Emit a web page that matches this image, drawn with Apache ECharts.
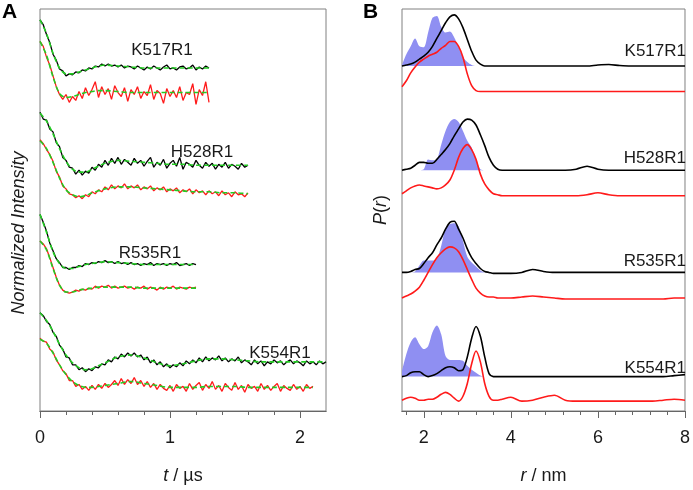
<!DOCTYPE html>
<html>
<head>
<meta charset="utf-8">
<script src="https://cdn.jsdelivr.net/npm/echarts@6/dist/echarts.min.js"></script>
<style>
	html, body { margin: 0; padding: 0; background: #fff; }
	#chart { width: 693px; height: 490px; }
</style>
</head>
<body>
<div id="chart"></div>
<script>
// trace names (same order in both panels)
const traceNames = ["K517R1", "H528R1", "R535R1", "K554R1"];

// ---- panel A: DEER time traces (offset, a.u.), sampled every dtA µs ----
const dtA = 0.025;
const k517Black = [3.98, 3.93, 3.83, 3.75, 3.63, 3.57, 3.48, 3.46, 3.41, 3.43, 3.42, 3.45, 3.44, 3.47, 3.46, 3.49, 3.48, 3.51, 3.50, 3.53, 3.51, 3.53, 3.51, 3.52, 3.50, 3.52, 3.49, 3.51, 3.50, 3.48, 3.51, 3.49, 3.47, 3.50, 3.48, 3.51, 3.49, 3.47, 3.50, 3.52, 3.48, 3.49, 3.47, 3.50, 3.51, 3.48, 3.49, 3.52, 3.47, 3.50, 3.48, 3.51, 3.49];
const k517Red = [3.76, 3.71, 3.60, 3.52, 3.41, 3.30, 3.22, 3.17, 3.22, 3.14, 3.20, 3.16, 3.25, 3.18, 3.29, 3.21, 3.27, 3.35, 3.19, 3.30, 3.22, 3.28, 3.17, 3.31, 3.24, 3.20, 3.29, 3.15, 3.27, 3.22, 3.30, 3.18, 3.25, 3.21, 3.32, 3.17, 3.26, 3.23, 3.13, 3.28, 3.20, 3.26, 3.19, 3.30, 3.16, 3.24, 3.22, 3.33, 3.12, 3.27, 3.21, 3.35, 3.14];
const h528Black = [3.04, 2.97, 2.96, 2.87, 2.84, 2.73, 2.69, 2.58, 2.55, 2.48, 2.47, 2.41, 2.45, 2.40, 2.44, 2.42, 2.48, 2.45, 2.51, 2.48, 2.55, 2.50, 2.57, 2.52, 2.58, 2.51, 2.56, 2.53, 2.50, 2.57, 2.52, 2.55, 2.49, 2.54, 2.58, 2.48, 2.53, 2.50, 2.56, 2.47, 2.52, 2.55, 2.49, 2.58, 2.46, 2.53, 2.51, 2.48, 2.55, 2.50, 2.47, 2.53, 2.49, 2.52, 2.46, 2.51, 2.48, 2.53, 2.47, 2.51, 2.49, 2.46, 2.52, 2.48, 2.50];
const h528Red = [2.76, 2.72, 2.66, 2.61, 2.54, 2.44, 2.38, 2.29, 2.26, 2.21, 2.20, 2.17, 2.19, 2.16, 2.20, 2.18, 2.23, 2.21, 2.25, 2.23, 2.28, 2.25, 2.30, 2.26, 2.29, 2.27, 2.31, 2.26, 2.29, 2.27, 2.30, 2.25, 2.28, 2.26, 2.29, 2.24, 2.27, 2.25, 2.28, 2.23, 2.26, 2.24, 2.27, 2.22, 2.25, 2.23, 2.26, 2.21, 2.25, 2.22, 2.24, 2.20, 2.24, 2.21, 2.23, 2.19, 2.24, 2.20, 2.22, 2.18, 2.23, 2.20, 2.21, 2.18, 2.22];
const r535Black = [2.00, 1.92, 1.83, 1.71, 1.63, 1.55, 1.51, 1.46, 1.46, 1.44, 1.46, 1.46, 1.48, 1.47, 1.50, 1.49, 1.51, 1.50, 1.52, 1.51, 1.53, 1.51, 1.52, 1.50, 1.52, 1.50, 1.51, 1.49, 1.51, 1.49, 1.50, 1.48, 1.50, 1.49, 1.51, 1.48, 1.50, 1.49, 1.50, 1.48, 1.50, 1.49, 1.51, 1.48, 1.49, 1.50, 1.48, 1.50, 1.49];
const r535Red = [1.73, 1.70, 1.65, 1.56, 1.46, 1.36, 1.28, 1.23, 1.21, 1.20, 1.21, 1.23, 1.22, 1.24, 1.23, 1.25, 1.24, 1.27, 1.25, 1.27, 1.26, 1.28, 1.25, 1.27, 1.25, 1.26, 1.27, 1.25, 1.26, 1.24, 1.26, 1.25, 1.27, 1.24, 1.26, 1.25, 1.23, 1.26, 1.24, 1.26, 1.25, 1.27, 1.24, 1.26, 1.25, 1.24, 1.26, 1.25, 1.26];
const k554Black = [1.00, 0.97, 0.91, 0.88, 0.80, 0.76, 0.67, 0.63, 0.55, 0.54, 0.47, 0.47, 0.42, 0.44, 0.40, 0.43, 0.41, 0.45, 0.44, 0.48, 0.47, 0.52, 0.50, 0.55, 0.53, 0.58, 0.55, 0.59, 0.56, 0.59, 0.55, 0.57, 0.52, 0.55, 0.49, 0.52, 0.47, 0.50, 0.45, 0.48, 0.44, 0.47, 0.45, 0.49, 0.46, 0.51, 0.48, 0.52, 0.49, 0.54, 0.50, 0.55, 0.51, 0.54, 0.52, 0.56, 0.51, 0.54, 0.50, 0.53, 0.51, 0.55, 0.49, 0.52, 0.50, 0.47, 0.52, 0.48, 0.51, 0.46, 0.50, 0.48, 0.52, 0.49, 0.51, 0.47, 0.50, 0.52, 0.48, 0.51, 0.49, 0.46, 0.51, 0.48, 0.50, 0.47, 0.51, 0.48, 0.50];
const k554Red = [0.74, 0.71, 0.70, 0.63, 0.60, 0.52, 0.47, 0.41, 0.38, 0.31, 0.31, 0.25, 0.27, 0.22, 0.25, 0.21, 0.26, 0.22, 0.27, 0.23, 0.28, 0.24, 0.27, 0.31, 0.26, 0.33, 0.27, 0.32, 0.28, 0.34, 0.27, 0.31, 0.25, 0.30, 0.24, 0.28, 0.22, 0.27, 0.23, 0.21, 0.26, 0.20, 0.27, 0.23, 0.25, 0.20, 0.28, 0.22, 0.26, 0.29, 0.21, 0.27, 0.23, 0.30, 0.22, 0.26, 0.20, 0.28, 0.24, 0.21, 0.29, 0.22, 0.26, 0.19, 0.27, 0.23, 0.25, 0.20, 0.28, 0.22, 0.26, 0.21, 0.25, 0.28, 0.20, 0.26, 0.23, 0.21, 0.27, 0.22, 0.25, 0.20, 0.27, 0.23, 0.25];

// fits (green dashed), on the fitT grid
const fitT = [0, 0.05, 0.1, 0.15, 0.2, 0.25, 0.3, 0.35, 0.4, 0.45, 0.5, 0.6, 0.7, 0.8, 0.9, 1.0, 1.1, 1.2, 1.3, 1.4, 1.5, 1.6, 1.7, 1.8, 1.9, 2.0, 2.1, 2.2];
const k517BlackFit = [3.98, 3.84, 3.64, 3.49, 3.43, 3.43, 3.45, 3.47, 3.49, 3.51, 3.52, 3.51, 3.50, 3.49, 3.49, 3.49, 3.49, 3.49, 3.49];
const k517RedFit = [3.76, 3.62, 3.40, 3.23, 3.19, 3.20, 3.22, 3.24, 3.25, 3.26, 3.26, 3.25, 3.24, 3.24, 3.24, 3.24, 3.24, 3.24, 3.24];
const h528BlackFit = [3.03, 2.95, 2.82, 2.67, 2.54, 2.46, 2.43, 2.43, 2.46, 2.49, 2.52, 2.55, 2.54, 2.53, 2.52, 2.51, 2.51, 2.50, 2.50, 2.50, 2.50, 2.50];
const h528RedFit = [2.75, 2.67, 2.53, 2.37, 2.25, 2.20, 2.18, 2.19, 2.22, 2.24, 2.26, 2.28, 2.28, 2.27, 2.26, 2.25, 2.24, 2.23, 2.23, 2.22, 2.22, 2.21];
const r535BlackFit = [2.00, 1.82, 1.62, 1.50, 1.45, 1.45, 1.47, 1.49, 1.50, 1.51, 1.52, 1.51, 1.50, 1.49, 1.49, 1.49, 1.49, 1.49];
const r535RedFit = [1.73, 1.64, 1.45, 1.28, 1.21, 1.21, 1.23, 1.24, 1.25, 1.26, 1.26, 1.26, 1.26, 1.25, 1.25, 1.25, 1.25, 1.25];
const k554BlackFit = [1.00, 0.92, 0.81, 0.68, 0.57, 0.49, 0.44, 0.42, 0.43, 0.46, 0.49, 0.55, 0.57, 0.54, 0.49, 0.46, 0.48, 0.51, 0.53, 0.53, 0.52, 0.51, 0.50, 0.50, 0.50, 0.50, 0.50, 0.50];
const k554RedFit = [0.73, 0.69, 0.59, 0.47, 0.37, 0.30, 0.26, 0.24, 0.24, 0.25, 0.26, 0.28, 0.30, 0.28, 0.26, 0.24, 0.24, 0.24, 0.25, 0.25, 0.25, 0.24, 0.24, 0.24, 0.24, 0.24, 0.24];

// ---- panel B: distance distributions P(r), offset ----
const rGrid = [1.5, 1.6, 1.7, 1.8, 1.9, 2.0, 2.1, 2.2, 2.3, 2.4, 2.5, 2.6, 2.7, 2.8, 2.9, 3.0, 3.1, 3.2, 3.3, 3.4, 3.5, 3.6, 3.7, 3.8, 4.0, 4.25, 4.5, 4.75, 5.0, 5.25, 5.5, 5.75, 6.0, 6.25, 6.5, 6.75, 7.0, 7.25, 7.5, 7.75, 8.0];
const k517PrBlack = [3.53, 3.54, 3.55, 3.57, 3.60, 3.63, 3.67, 3.73, 3.81, 3.89, 3.97, 4.03, 4.05, 4.01, 3.92, 3.80, 3.68, 3.59, 3.55, 3.53, 3.53, 3.53, 3.53, 3.53, 3.53, 3.53, 3.53, 3.53, 3.53, 3.53, 3.53, 3.53, 3.54, 3.545, 3.535, 3.53, 3.53, 3.53, 3.53, 3.53, 3.53];
const k517PrRed = [3.32, 3.38, 3.46, 3.52, 3.57, 3.60, 3.63, 3.65, 3.67, 3.71, 3.74, 3.78, 3.78, 3.73, 3.62, 3.45, 3.33, 3.28, 3.27, 3.27, 3.27, 3.27, 3.27, 3.27, 3.27, 3.27, 3.27, 3.27, 3.27, 3.27, 3.27, 3.27, 3.27, 3.27, 3.27, 3.27, 3.27, 3.27, 3.27, 3.27, 3.27];
const k517PrBlue = [3.54, 3.65, 3.73, 3.81, 3.73, 3.72, 3.87, 4.02, 4.04, 3.93, 3.87, 3.88, 3.82, 3.72, 3.62, 3.57, 3.54, 3.53, 3.53];
const h528PrBlack = [2.47, 2.48, 2.49, 2.52, 2.55, 2.55, 2.54, 2.54, 2.58, 2.63, 2.68, 2.74, 2.82, 2.89, 2.96, 2.99, 2.98, 2.93, 2.83, 2.72, 2.60, 2.52, 2.48, 2.47, 2.47, 2.47, 2.47, 2.47, 2.47, 2.47, 2.48, 2.51, 2.48, 2.47, 2.47, 2.47, 2.47, 2.47, 2.47, 2.47, 2.47];
const h528PrRed = [2.23, 2.26, 2.29, 2.31, 2.32, 2.31, 2.30, 2.29, 2.28, 2.29, 2.32, 2.37, 2.47, 2.60, 2.69, 2.73, 2.68, 2.58, 2.43, 2.33, 2.27, 2.23, 2.22, 2.21, 2.21, 2.21, 2.21, 2.21, 2.21, 2.21, 2.21, 2.22, 2.24, 2.22, 2.21, 2.21, 2.21, 2.21, 2.21, 2.21, 2.21];
const h528PrBlue = [2.47, 2.47, 2.47, 2.47, 2.47, 2.48, 2.58, 2.57, 2.58, 2.73, 2.87, 2.96, 2.99, 2.96, 2.87, 2.77, 2.70, 2.57, 2.48, 2.47];
const r535PrBlack = [1.43, 1.43, 1.44, 1.46, 1.47, 1.52, 1.58, 1.63, 1.71, 1.78, 1.87, 1.94, 1.95, 1.87, 1.78, 1.67, 1.58, 1.52, 1.47, 1.44, 1.43, 1.42, 1.42, 1.42, 1.42, 1.43, 1.46, 1.44, 1.43, 1.43, 1.43, 1.43, 1.43, 1.43, 1.43, 1.43, 1.43, 1.43, 1.43, 1.43, 1.43];
const r535PrRed = [1.17, 1.19, 1.21, 1.24, 1.28, 1.35, 1.43, 1.51, 1.58, 1.63, 1.67, 1.69, 1.68, 1.64, 1.56, 1.46, 1.36, 1.27, 1.22, 1.19, 1.18, 1.18, 1.17, 1.17, 1.17, 1.18, 1.19, 1.18, 1.17, 1.16, 1.16, 1.16, 1.16, 1.16, 1.16, 1.16, 1.16, 1.16, 1.16, 1.17, 1.17];
const r535PrBlue = [1.43, 1.43, 1.43, 1.44, 1.50, 1.55, 1.55, 1.55, 1.57, 1.70, 1.88, 1.92, 1.93, 1.90, 1.75, 1.59, 1.53, 1.49, 1.45, 1.43];
const k554PrBlack = [0.37, 0.38, 0.41, 0.42, 0.42, 0.39, 0.37, 0.38, 0.40, 0.43, 0.46, 0.47, 0.46, 0.43, 0.44, 0.57, 0.76, 0.88, 0.78, 0.57, 0.40, 0.37, 0.37, 0.37, 0.37, 0.37, 0.37, 0.37, 0.37, 0.37, 0.37, 0.37, 0.37, 0.37, 0.37, 0.37, 0.37, 0.37, 0.37, 0.38, 0.39];
const k554PrRed = [0.13, 0.15, 0.16, 0.15, 0.13, 0.13, 0.14, 0.14, 0.16, 0.19, 0.21, 0.19, 0.15, 0.12, 0.17, 0.30, 0.50, 0.63, 0.52, 0.30, 0.17, 0.13, 0.13, 0.14, 0.16, 0.12, 0.13, 0.16, 0.18, 0.13, 0.12, 0.12, 0.12, 0.12, 0.12, 0.12, 0.12, 0.12, 0.13, 0.14, 0.13];
const k554PrBlue = [0.43, 0.60, 0.72, 0.77, 0.70, 0.65, 0.68, 0.82, 0.89, 0.80, 0.58, 0.54, 0.54, 0.54, 0.53, 0.48, 0.44, 0.41, 0.38, 0.37];
// baseline of each shaded distribution (= black trace baseline)
const blueBase = [3.53, 2.47, 1.43, 0.37];

// tick values
const majorTicksA = [0, 1, 2];
const allTicksA = [0, 0.2, 0.4, 0.6, 0.8, 1, 1.2, 1.4, 1.6, 1.8, 2];
const majorTicksB = [2, 4, 6, 8];
const allTicksB = [1.6, 2, 2.4, 2.8, 3.2, 3.6, 4, 4.4, 4.8, 5.2, 5.6, 6, 6.4, 6.8, 7.2, 7.6, 8];

const FONT = "Liberation Sans, Arial, sans-serif";
const AXIS_COLOR = "#666";
const RED = "#ff1a1a";

const chart = echarts.init(document.getElementById("chart"));

// time trace (experimental data)
function dataLine(values, color) {
	return {
		type: "line", xAxisIndex: 0, yAxisIndex: 0,
		data: values.map((v, i) => [i * dtA, v]),
		showSymbol: false, symbol: "none", silent: true,
		lineStyle: { color: color, width: 1.3 },
		z: 2,
	};
}

// fit (green dashed)
function fitLine(values) {
	return {
		type: "line", xAxisIndex: 0, yAxisIndex: 0,
		data: values.map((v, i) => [fitT[i], v]),
		showSymbol: false, symbol: "none", silent: true, smooth: 0.3,
		lineStyle: { color: "#22cc22", width: 1.6, type: [5, 3] },
		z: 3,
	};
}

function prLine(values, color) {
	return {
		type: "line", xAxisIndex: 2, yAxisIndex: 1,
		data: values.map((v, i) => [rGrid[i], v]),
		showSymbol: false, symbol: "none", silent: true, smooth: 0.3,
		lineStyle: { color: color, width: 1.6 },
		z: 3,
	};
}

// shaded distribution filled down to its baseline
function prArea(values, base) {
	return {
		type: "line", xAxisIndex: 2, yAxisIndex: 1,
		data: values.map((v, i) => [rGrid[i], v]),
		showSymbol: false, symbol: "none", silent: true, smooth: 0.3,
		lineStyle: { width: 0 },
		areaStyle: { color: "#8f8ff2", opacity: 1, origin: base },
		z: 1,
	};
}

const series = [
	dataLine(k517Black, "#000"), dataLine(k517Red, RED),
	dataLine(h528Black, "#000"), dataLine(h528Red, RED),
	dataLine(r535Black, "#000"), dataLine(r535Red, RED),
	dataLine(k554Black, "#000"), dataLine(k554Red, RED),
	fitLine(k517BlackFit), fitLine(k517RedFit),
	fitLine(h528BlackFit), fitLine(h528RedFit),
	fitLine(r535BlackFit), fitLine(r535RedFit),
	fitLine(k554BlackFit), fitLine(k554RedFit),
	prArea(k517PrBlue, blueBase[0]), prArea(h528PrBlue, blueBase[1]),
	prArea(r535PrBlue, blueBase[2]), prArea(k554PrBlue, blueBase[3]),
	prLine(k517PrBlack, "#000"), prLine(k517PrRed, RED),
	prLine(h528PrBlack, "#000"), prLine(h528PrRed, RED),
	prLine(r535PrBlack, "#000"), prLine(r535PrRed, RED),
	prLine(k554PrBlack, "#000"), prLine(k554PrRed, RED),
];

const nameStyle = {
	fontSize: 18, fontFamily: FONT, color: "#1a1a1a",
	rich: { i: { fontStyle: "italic", fontSize: 18, fontFamily: FONT, color: "#1a1a1a" } },
};

// main axis: short ticks at every (minor + major) position, labels at majors
function mainX(gridIndex, min, max, ticks, labels, name) {
	return {
		type: "value", gridIndex: gridIndex, min: min, max: max, position: "bottom", offset: 0,
		name: name, nameLocation: "middle", nameGap: 56, nameTextStyle: nameStyle,
		axisLine: { lineStyle: { color: AXIS_COLOR, width: 1 } },
		axisTick: { show: true, customValues: ticks, length: 4, lineStyle: { color: AXIS_COLOR } },
		axisLabel: { customValues: labels, fontSize: 18, fontFamily: FONT, color: "#1a1a1a", margin: 18 },
		splitLine: { show: false },
	};
}

// second axis on the same grid, for the longer major ticks
function majorX(gridIndex, min, max, ticks) {
	return {
		type: "value", gridIndex: gridIndex, min: min, max: max, position: "bottom", offset: 0,
		axisLine: { show: true, lineStyle: { color: AXIS_COLOR, width: 1 } },
		axisTick: { show: true, customValues: ticks, length: 7, lineStyle: { color: AXIS_COLOR } },
		axisLabel: { show: false },
		splitLine: { show: false },
	};
}

function hiddenY(gridIndex, min, max, name) {
	return {
		type: "value", gridIndex: gridIndex, min: min, max: max,
		name: name, nameLocation: "middle", nameGap: 12, nameTextStyle: nameStyle,
		axisLine: { show: false }, axisTick: { show: false },
		axisLabel: { show: false }, splitLine: { show: false },
	};
}

const labelStyle = { fontSize: 17, fontFamily: FONT, fill: "#1a1a1a" };
// trace label anchors (px): panel A centred, panel B right aligned
const labelPosA = [[162, 50], [202, 152], [150, 253], [280, 353]];
const labelPosB = [[686, 51], [686, 158], [686, 261], [686, 368]];

const graphics = [
	{ type: "text", left: 2, top: 2, style: { text: "A", fontSize: 21, fontWeight: "bold", fontFamily: FONT, fill: "#000" } },
	{ type: "text", left: 363, top: 2, style: { text: "B", fontSize: 21, fontWeight: "bold", fontFamily: FONT, fill: "#000" } },
	// y title of panel A, rotated to read upwards
	{ type: "text", x: 19, y: 233, rotation: Math.PI / 2,
		style: { text: "Normalized Intensity", align: "center", verticalAlign: "middle",
			fontSize: 18, fontStyle: "italic", fontFamily: FONT, fill: "#1a1a1a" } },
];
traceNames.forEach((n, i) => {
	graphics.push({ type: "text", x: labelPosA[i][0], y: labelPosA[i][1],
		style: Object.assign({ text: n, align: "center", verticalAlign: "middle" }, labelStyle) });
	graphics.push({ type: "text", x: labelPosB[i][0], y: labelPosB[i][1],
		style: Object.assign({ text: n, align: "right", verticalAlign: "middle" }, labelStyle) });
});

const option = {
	animation: false,
	backgroundColor: "#fff",
	grid: [
		{ left: 40, top: 9, width: 286, height: 409, show: true, borderColor: "#808080", borderWidth: 1 },
		{ left: 402, top: 9, width: 285, height: 409, show: true, borderColor: "#808080", borderWidth: 1 },
	],
	xAxis: [
		mainX(0, 0, 2.2, allTicksA, majorTicksA, "{i|t} / µs"),
		majorX(0, 0, 2.2, majorTicksA),
		mainX(1, 1.5, 8, allTicksB, majorTicksB, "{i|r} / nm"),
		majorX(1, 1.5, 8, majorTicksB),
	],
	yAxis: [
		hiddenY(0, 0, 4.09, ""),
		hiddenY(1, 0.02, 4.11, "{i|P}({i|r})"),
	],
	graphic: graphics,
	series: series,
};

chart.setOption(option);
</script>
</body>
</html>
